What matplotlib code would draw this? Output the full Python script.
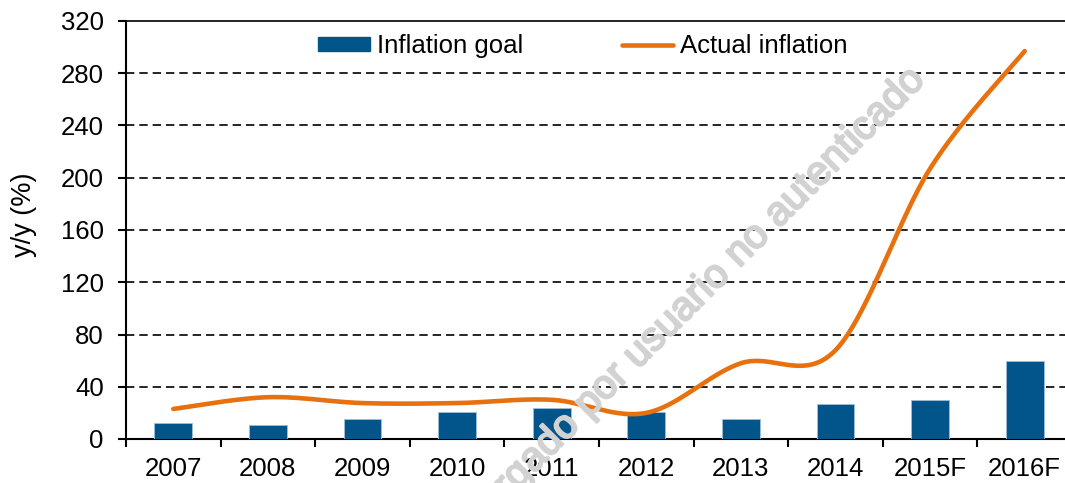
import numpy as np
import matplotlib
matplotlib.use("Agg")
import matplotlib.pyplot as plt
import matplotlib.patheffects as pe
from matplotlib import font_manager
from matplotlib.lines import Line2D
from matplotlib.patches import Patch

categories = ["2007", "2008", "2009", "2010", "2011", "2012", "2013", "2014", "2015F", "2016F"]
inflation_goal = [12, 11, 15, 21, 24, 21, 15, 27, 30, 60]
actual_inflation = [23, 32, 27.5, 27.5, 30, 20, 58, 68, 207, 297]
y_ticks = [0, 40, 80, 120, 160, 200, 240, 280, 320]

names = {f.name for f in font_manager.fontManager.ttflist}
base_font = "Liberation Sans" if "Liberation Sans" in names else "DejaVu Sans"
plt.rcParams["font.family"] = [base_font, "DejaVu Sans"]

BAR = "#02558B"
ORANGE = "#E8710F"
FS = 18.5


def smooth(xs, ys, n=40):
    # Excel-style smoothed line (Catmull-Rom via cubic Bezier)
    xs = np.asarray(xs, float)
    ys = np.asarray(ys, float)
    px = np.concatenate([[xs[0]], xs, [xs[-1]]])
    py = np.concatenate([[ys[0]], ys, [ys[-1]]])
    ox, oy = [], []
    for i in range(1, len(px) - 2):
        p0 = np.array([px[i], py[i]])
        p3 = np.array([px[i + 1], py[i + 1]])
        c1 = p0 + (np.array([px[i + 1], py[i + 1]]) - np.array([px[i - 1], py[i - 1]])) / 6
        c2 = p3 - (np.array([px[i + 2], py[i + 2]]) - np.array([px[i], py[i]])) / 6
        t = np.linspace(0, 1, n)[:, None]
        pts = ((1 - t) ** 3) * p0 + 3 * ((1 - t) ** 2) * t * c1 + 3 * (1 - t) * t ** 2 * c2 + t ** 3 * p3
        ox.extend(pts[:, 0]); oy.extend(pts[:, 1])
    return np.array(ox), np.array(oy)


fig = plt.figure(figsize=(10.65, 4.83), dpi=100)
ax = fig.add_axes([126 / 1065, 44 / 483, 946 / 1065, 418 / 483])

x = np.arange(len(categories))
ax.set_xlim(-0.5, len(categories) - 0.5)
ax.set_ylim(0, 320)

for yv in y_ticks[1:-1]:
    ax.axhline(yv, color="black", lw=1.2, linestyle=(0, (5, 3)), zorder=1)

ax.bar(x, inflation_goal, width=0.4, color=BAR, edgecolor="#9fbfd8", linewidth=0.6, zorder=3)
sx, sy = smooth(x, actual_inflation)
ax.plot(sx, sy, color=ORANGE, lw=3.3, solid_capstyle="round", zorder=4)

# watermark
fig.text(919 / 1065, 1 - 73 / 483, "Descargado por usuario no autenticado",
         rotation=45, rotation_mode="anchor",
         ha="right", va="center", fontsize=29,
         color="#d2d2d2", zorder=0.5,
         path_effects=[pe.withStroke(linewidth=1.6, foreground="#d2d2d2")])

ax.spines["right"].set_visible(False)
for s in ["left", "bottom", "top"]:
    ax.spines[s].set_linewidth(1.5)
    ax.spines[s].set_color("black")
ax.spines["top"].set_linewidth(1.2)
ax.set_facecolor("none")

ax.set_yticks(y_ticks)
ax.tick_params(axis="y", direction="out", length=6, width=1.5, pad=10, labelsize=FS)
ax.set_xticks(x)
ax.set_xticklabels(categories)
ax.tick_params(axis="x", which="major", length=0, pad=13, labelsize=FS)
ax.set_xticks(np.arange(-0.5, len(categories) + 0.5, 1), minor=True)
ax.tick_params(axis="x", which="minor", direction="out", length=6, width=1.5)

fig.text(24 / 1065, 1 - 215 / 483, "y/y (%)", rotation=90, ha="center", va="center", fontsize=19.5)

handles = [Patch(facecolor=BAR, edgecolor=BAR), Line2D([0], [0], color=ORANGE, lw=3.3, solid_capstyle="round")]
leg = ax.legend(handles, ["Inflation goal", "Actual inflation"], loc="center",
                bbox_to_anchor=(0.483, 1 - 25 / 418), ncol=2, frameon=False,
                prop={"size": FS}, handlelength=2.0,
                handleheight=0.5, handletextpad=0.27, columnspacing=3.85)

fig.savefig("out.png", dpi=100)
